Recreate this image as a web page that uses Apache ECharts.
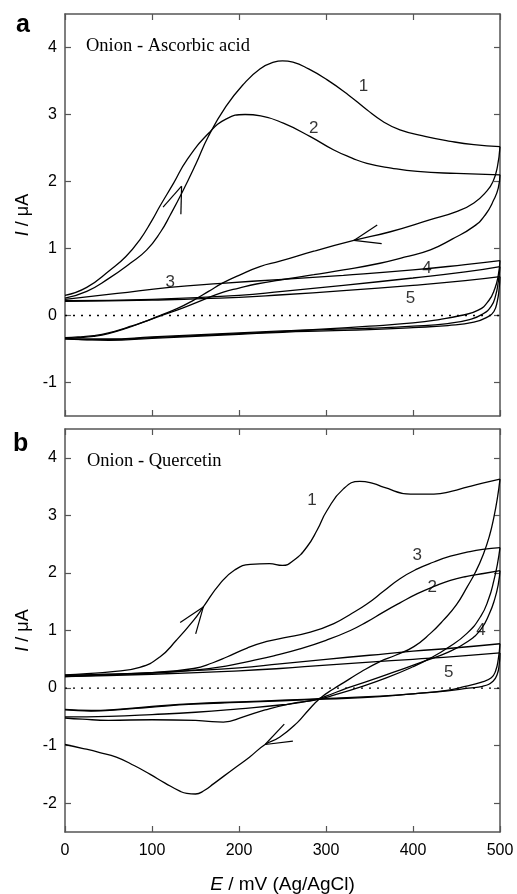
<!DOCTYPE html>
<html><head><meta charset="utf-8">
<script src="https://cdn.jsdelivr.net/npm/echarts@6/dist/echarts.min.js"></script>
<style>html,body{margin:0;padding:0;background:#fff}#c{width:517px;height:894px}</style>
</head><body><div id="c"></div>
<script>
// ---------- DATA (E in mV, I in µA) ----------
const xTicks = [0, 100, 200, 300, 400, 500];
const yTicksA = [-1, 0, 1, 2, 3, 4];
const yTicksB = [-2, -1, 0, 1, 2, 3, 4];

// Panel a: Onion - Ascorbic acid (forward and reverse scans)
const a1Fwd = [[0,0.26],[25,0.36],[50,0.55],[75,0.78],[94,0.98],[110,1.25],[121,1.5],[134,1.82],[150,2.25],[165,2.68],[185,3.12],[205,3.45],[224,3.68],[240,3.78],[250,3.8],[262,3.78],[280,3.68],[301,3.52],[325,3.3],[347,3.07],[365,2.9],[385,2.77],[415,2.67],[443,2.6],[470,2.55],[500,2.52]];
const a1Rev = [[500,2.52],[497,2.22],[492,2.0],[485,1.86],[470,1.68],[450,1.55],[420,1.43],[374,1.25],[332,1.12],[286,0.96],[247,0.81],[224,0.73],[200,0.6],[182,0.49],[165,0.36],[148,0.23],[130,0.11],[109,0.0],[90,-0.1],[71,-0.18],[50,-0.26],[33,-0.3],[15,-0.32],[0,-0.33]];
const a2Fwd = [[0,0.3],[25,0.42],[52,0.68],[70,0.88],[86,1.13],[100,1.42],[109,1.63],[125,1.98],[140,2.32],[165,2.72],[185,2.93],[207,3.0],[225,2.98],[251,2.87],[282,2.67],[309,2.47],[330,2.35],[347,2.27],[375,2.2],[405,2.15],[450,2.12],[500,2.1]];
const a2Rev = [[500,2.1],[498,1.9],[493,1.73],[483,1.5],[470,1.33],[445,1.14],[420,0.98],[390,0.87],[362,0.78],[320,0.68],[286,0.61],[247,0.53],[220,0.47],[200,0.41],[182,0.35],[160,0.24],[135,0.11],[109,-0.01],[90,-0.1],[71,-0.19],[50,-0.27],[33,-0.31],[15,-0.33],[0,-0.34]];
const a3Fwd = [[0,0.24],[60,0.33],[120,0.42],[180,0.48],[250,0.54],[320,0.6],[400,0.68],[460,0.76],[500,0.82]];
const a3Rev = [[500,0.82],[498,0.6],[494,0.4],[487,0.22],[475,0.08],[455,0.0],[430,-0.06],[400,-0.11],[350,-0.16],[300,-0.2],[250,-0.23],[200,-0.26],[150,-0.29],[100,-0.32],[50,-0.35],[20,-0.35],[0,-0.34]];
const a4Fwd = [[0,0.22],[100,0.24],[200,0.3],[250,0.36],[320,0.45],[400,0.56],[460,0.65],[500,0.73]];
const a4Rev = [[500,0.73],[498,0.5],[495,0.3],[490,0.14],[480,0.02],[465,-0.06],[440,-0.12],[400,-0.16],[350,-0.19],[300,-0.21],[250,-0.24],[200,-0.27],[150,-0.3],[100,-0.33],[50,-0.36],[20,-0.36],[0,-0.35]];
const a5Fwd = [[0,0.21],[100,0.23],[200,0.27],[250,0.31],[320,0.37],[400,0.45],[460,0.52],[500,0.58]];
const a5Rev = [[500,0.58],[499,0.4],[497,0.22],[493,0.06],[486,-0.02],[470,-0.1],[440,-0.15],[400,-0.18],[350,-0.21],[300,-0.23],[250,-0.25],[200,-0.28],[150,-0.31],[100,-0.34],[50,-0.37],[20,-0.36],[0,-0.35]];

// Panel b: Onion - Quercetin
const b1Fwd = [[0,0.23],[25,0.25],[52,0.28],[86,0.36],[109,0.54],[128,0.83],[148,1.18],[159,1.41],[178,1.81],[195,2.05],[213,2.15],[235,2.16],[250,2.13],[263,2.22],[278,2.45],[290,2.75],[301,3.08],[320,3.46],[339,3.59],[355,3.55],[366,3.49],[397,3.37],[424,3.37],[445,3.42],[462,3.49],[480,3.56],[500,3.63]];
const b1Rev = [[500,3.63],[497,3.3],[493,2.97],[488,2.65],[481,2.33],[472,2.02],[462,1.75],[450,1.45],[435,1.18],[420,0.95],[401,0.72],[380,0.57],[362,0.46],[340,0.28],[324,0.13],[308,-0.02],[293,-0.18],[280,-0.38],[267,-0.6],[247,-0.85],[230,-0.98],[212,-1.2],[194,-1.4],[171,-1.66],[160,-1.78],[150,-1.84],[140,-1.83],[132,-1.79],[115,-1.65],[98,-1.5],[80,-1.35],[59,-1.2],[40,-1.12],[21,-1.05],[0,-0.98]];
const b2Fwd = [[0,0.2],[50,0.23],[100,0.26],[148,0.31],[185,0.38],[213,0.47],[240,0.56],[270,0.68],[300,0.83],[328,1.0],[347,1.15],[366,1.32],[385,1.48],[405,1.64],[425,1.77],[443,1.87],[462,1.94],[481,1.99],[500,2.04]];
const b2Rev = [[500,2.04],[498,1.8],[494,1.55],[488,1.3],[478,1.02],[462,0.8],[440,0.62],[410,0.45],[382,0.3],[350,0.13],[324,0.0],[300,-0.14],[282,-0.22],[250,-0.29],[200,-0.36],[150,-0.42],[100,-0.46],[50,-0.49],[0,-0.5]];
const b3Fwd = [[0,0.22],[50,0.24],[100,0.27],[148,0.34],[170,0.44],[186,0.54],[210,0.7],[232,0.81],[251,0.87],[282,0.97],[309,1.12],[330,1.3],[347,1.46],[366,1.68],[385,1.9],[405,2.07],[424,2.19],[443,2.29],[462,2.36],[480,2.41],[500,2.44]];
const b3Rev = [[500,2.44],[497,2.15],[493,1.87],[487,1.55],[478,1.25],[462,0.95],[440,0.7],[420,0.52],[400,0.37],[370,0.18],[340,0.02],[310,-0.12],[290,-0.2],[260,-0.27],[230,-0.38],[205,-0.5],[182,-0.59],[165,-0.58],[150,-0.56],[100,-0.55],[50,-0.56],[20,-0.54],[0,-0.52]];
const b4Fwd = [[0,0.22],[100,0.27],[200,0.35],[247,0.42],[300,0.5],[350,0.57],[400,0.64],[450,0.7],[500,0.77]];
const b4Rev = [[500,0.77],[498,0.5],[495,0.3],[490,0.18],[478,0.1],[460,0.03],[439,-0.04],[400,-0.1],[362,-0.14],[300,-0.18],[250,-0.21],[200,-0.24],[148,-0.27],[100,-0.32],[60,-0.37],[30,-0.39],[0,-0.37]];
const b5Fwd = [[0,0.2],[100,0.24],[200,0.3],[247,0.34],[300,0.4],[350,0.45],[400,0.5],[450,0.55],[500,0.61]];
const b5Rev = [[500,0.61],[499,0.4],[497,0.25],[492,0.12],[480,0.03],[464,0.0],[440,-0.05],[400,-0.1],[362,-0.15],[300,-0.19],[250,-0.22],[200,-0.25],[148,-0.28],[100,-0.33],[60,-0.38],[30,-0.4],[0,-0.38]];

// Scan-direction arrows: [E_tip, I_tip, E_behind, I_behind]
const arrowsA = [[134,1.93,121,1.5],[332,1.12,374,1.25]];
const arrowsB = [[159,1.41,148,1.18],[230,-0.98,247,-0.85]];

// Curve number labels: [E, I, text]
const labelsA = [[343,3.42,'1'],[286,2.8,'2'],[121,0.5,'3'],[416,0.71,'4'],[397,0.26,'5']];
const labelsB = [[284,3.26,'1'],[405,2.3,'3'],[422,1.75,'2'],[478,1.0,'4'],[441,0.28,'5']];
const zeroLine = [[0,0],[500,0]];

// ---------- CHART ----------
const FONT = 'Liberation Sans, Arial, Helvetica, sans-serif';
const SERIF = 'Liberation Serif, Times New Roman, serif';
const AX = '#555';
const chart = echarts.init(document.getElementById('c'));

function xAx(grid, pos, labels, name) {
  return {
    type:'value', gridIndex:grid, position:pos, min:0, max:500, interval:100,
    axisLine:{show:true, onZero:false, lineStyle:{color:AX, width:1.5}},
    axisTick:{show:true, inside:true, length:6, lineStyle:{color:AX, width:1.2}},
    axisLabel:{show:labels, color:'#000', fontSize:16, fontFamily:FONT, margin:11},
    splitLine:{show:false},
    name: name || '', nameLocation:'middle', nameGap:43,
    nameTextStyle:{color:'#000', fontSize:19, fontFamily:FONT, rich:{it:{fontStyle:'italic', fontSize:19, fontFamily:FONT, color:'#000'}}}
  };
}
function yAx(grid, pos, labels, min, max, ticks) {
  return {
    type:'value', gridIndex:grid, position:pos, min:min, max:max,
    axisLine:{show:true, onZero:false, lineStyle:{color:AX, width:1.5}},
    axisTick:{show:true, inside:true, length:6, customValues:ticks, lineStyle:{color:AX, width:1.2}},
    axisLabel:{show:labels, customValues:ticks, color:'#000', fontSize:16, fontFamily:FONT, margin:8},
    splitLine:{show:false},
    name: labels ? '{it|I} / μA' : '', nameLocation:'middle', nameGap:31,
    nameTextStyle:{color:'#000', fontSize:18, fontFamily:FONT, rich:{it:{fontStyle:'italic', fontSize:18, fontFamily:FONT, color:'#000'}}}
  };
}

const series = [];
function addCurves(list, xi, yi) {
  list.forEach(d => series.push({
    type:'line', xAxisIndex:xi, yAxisIndex:yi, data:d, showSymbol:false, symbol:'none',
    smooth:0.5, lineStyle:{color:'#000', width:1.3}, silent:true, z:3
  }));
}
addCurves([a1Fwd,a1Rev,a2Fwd,a2Rev,a3Fwd,a3Rev,a4Fwd,a4Rev,a5Fwd,a5Rev], 0, 0);
addCurves([b1Fwd,b1Rev,b2Fwd,b2Rev,b3Fwd,b3Rev,b4Fwd,b4Rev,b5Fwd,b5Rev], 2, 2);

[[0,0],[2,2]].forEach(([xi,yi]) => series.push({
  type:'line', xAxisIndex:xi, yAxisIndex:yi, data:zeroLine, showSymbol:false, symbol:'none',
  lineStyle:{color:'#000', width:1.3, type:[2,6]}, silent:true, z:2
}));

function arrowItem(params, api) {
  const tip = api.coord([api.value(0), api.value(1)]);
  const back = api.coord([api.value(2), api.value(3)]);
  let dx = back[0]-tip[0], dy = back[1]-tip[1];
  const L = Math.hypot(dx,dy); dx/=L; dy/=L;
  const len = 28, ang = 20*Math.PI/180;
  const kids = [ang,-ang].map(a => {
    const rx = dx*Math.cos(a) - dy*Math.sin(a), ry = dx*Math.sin(a) + dy*Math.cos(a);
    return {type:'line', shape:{x1:tip[0], y1:tip[1], x2:tip[0]+rx*len, y2:tip[1]+ry*len},
            style:{stroke:'#000', lineWidth:1.2}};
  });
  return {type:'group', children:kids};
}
[[arrowsA,0],[arrowsB,2]].forEach(([d,i]) => series.push({
  type:'custom', xAxisIndex:i, yAxisIndex:i, data:d, renderItem:arrowItem, silent:true, z:4
}));

[[labelsA,0],[labelsB,2]].forEach(([d,i]) => series.push({
  type:'scatter', xAxisIndex:i, yAxisIndex:i, data:d, symbolSize:0, silent:true, z:5,
  label:{show:true, position:'inside', formatter:p => p.data[2], color:'#000', fontSize:17, fontFamily:FONT, textBorderWidth:0}
}));

chart.setOption({
  animation:false,
  backgroundColor:'#fff',
  title:[
    {text:'a', left:11, top:8, textStyle:{fontSize:25, fontWeight:'bold', fontFamily:FONT, color:'#000'}},
    {text:'b', left:8, top:427, textStyle:{fontSize:25, fontWeight:'bold', fontFamily:FONT, color:'#000'}},
    {text:'Onion - Ascorbic acid', left:81, top:32, textStyle:{fontSize:18.5, fontWeight:'normal', fontFamily:SERIF, color:'#000'}},
    {text:'Onion - Quercetin', left:82, top:447, textStyle:{fontSize:18.5, fontWeight:'normal', fontFamily:SERIF, color:'#000'}}
  ],
  grid:[
    {left:65, top:14, width:435, height:402, outerBoundsMode:'none', containLabel:false},
    {left:65, top:429, width:435, height:403, outerBoundsMode:'none', containLabel:false}
  ],
  xAxis:[
    xAx(0,'bottom',false), xAx(0,'top',false),
    xAx(1,'bottom',true,'{it|E} / mV (Ag/AgCl)'), xAx(1,'top',false)
  ],
  yAxis:[
    yAx(0,'left',true,-1.5,4.5,yTicksA), yAx(0,'right',false,-1.5,4.5,yTicksA),
    yAx(1,'left',true,-2.5,4.5,yTicksB), yAx(1,'right',false,-2.5,4.5,yTicksB)
  ],
  series:series
});
</script></body></html>
